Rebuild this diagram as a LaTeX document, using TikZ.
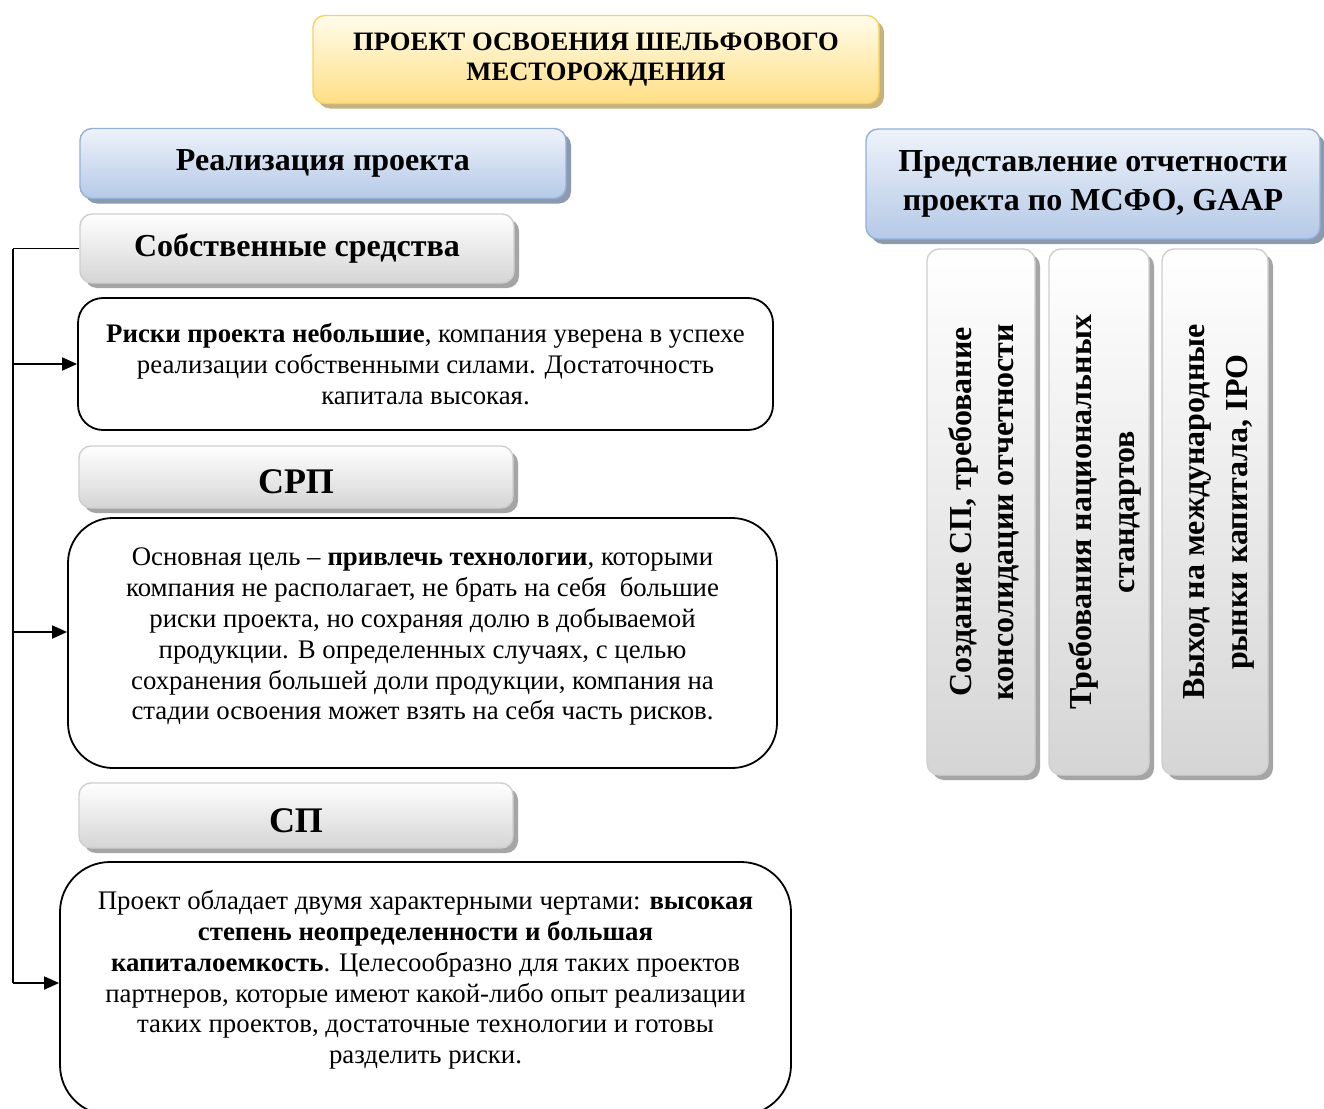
\documentclass[tikz,border=0pt]{standalone}
\usepackage{fontspec}
\setmainfont{Liberation Serif}
\usetikzlibrary{shadows,arrows.meta,calc}

\definecolor{goldtop}{HTML}{FFFCEB}
\definecolor{goldbot}{HTML}{FFDF85}
\definecolor{goldedge}{HTML}{F6D360}
\definecolor{goldshade}{HTML}{C7B27E}
\definecolor{bluetop}{HTML}{EEF3FA}
\definecolor{bluebot}{HTML}{B5C9E7}
\definecolor{blueedge}{HTML}{93B0D8}
\definecolor{blueshade}{HTML}{8D9AAE}
\definecolor{greytop}{HTML}{FFFFFF}
\definecolor{greybot}{HTML}{D5D5D5}
\definecolor{greyedge}{HTML}{CFCFCF}
\definecolor{greyshade}{HTML}{A5A5A5}

\begin{document}
\begin{tikzpicture}[x=1pt,y=-1pt,
  headbox/.style n args={4}{rounded corners=12pt, draw=#1, line width=1.4pt,
    top color=#2, bottom color=#3,
    drop shadow={shadow xshift=5pt, shadow yshift=-5pt, fill=#4, opacity=1},
    inner sep=0pt, align=center},
  goldhead/.style={headbox={goldedge}{goldtop}{goldbot}{goldshade}},
  bluehead/.style={headbox={blueedge}{bluetop}{bluebot}{blueshade}},
  greyhead/.style={headbox={greyedge}{greytop}{greybot}{greyshade}},
  textbox/.style={draw=black, line width=1.8pt, fill=white, inner sep=0pt, align=center,
    font=\fontsize{26.8}{30.8}\selectfont},
  vlabel/.style={rotate=90, align=center, font=\bfseries\fontsize{32}{42.5}\selectfont},
  rail/.style={draw=black, line width=1.8pt},
  arr/.style={draw=black, line width=1.8pt, -{Triangle[length=15pt,width=13pt]}}
]
\useasboundingbox (0,0) rectangle (1324,1108);
\fill[white] (0,0) rectangle (1324,1108);

% title
\node[goldhead, minimum width=566pt, minimum height=88pt,
  font=\bfseries\fontsize{26.6}{30}\selectfont] (title) at (596,59.5)
  {ПРОЕКТ ОСВОЕНИЯ ШЕЛЬФОВОГО\\МЕСТОРОЖДЕНИЯ};

% section headers
\node[bluehead, minimum width=486pt, minimum height=70pt,
  font=\bfseries\fontsize{32}{36}\selectfont] (impl) at (323,163.5)
  {Реализация проекта};
\node[bluehead, minimum width=454pt, minimum height=110pt,
  font=\bfseries\fontsize{32}{38.5}\selectfont] (report) at (1093,184)
  {Представление отчетности\\проекта по МСФО, GAAP};

% left column
\node[greyhead, minimum width=434pt, minimum height=69pt,
  font=\bfseries\fontsize{32}{36}\selectfont] (own) at (297,248.5)
  {Собственные средства};
\node[textbox, rounded corners=25pt, minimum width=695pt, minimum height=132pt] (box1) at (425.5,364)
  {\textbf{Риски проекта небольшие}, компания уверена в успехе\\
   реализации собственными силами. Достаточность\\
   капитала высокая.};

\node[greyhead, minimum width=434pt, minimum height=62pt, text height=34pt,
  font=\bfseries\fontsize{36}{40}\selectfont] (psa) at (296,477) {СРП};
\node[textbox, rounded corners=45pt, minimum width=709pt, minimum height=250pt] (box2) at (422.5,643)
  {Основная цель -- \textbf{привлечь технологии}, которыми\\
   компания не располагает, не брать на себя\ \ большие\\
   риски проекта, но сохраняя долю в добываемой\\
   продукции. В определенных случаях, с целью\\
   сохранения большей доли продукции, компания на\\
   стадии освоения может взять на себя часть рисков.\\[-12.8pt]};

\node[greyhead, minimum width=434pt, minimum height=65pt, text height=34pt,
  font=\bfseries\fontsize{36}{40}\selectfont] (jv) at (296,815.5) {СП};
\node[textbox, rounded corners=50pt, minimum width=731pt, minimum height=253pt] (box3) at (425.5,988.5)
  {Проект обладает двумя характерными чертами: \textbf{высокая}\\
   \textbf{степень неопределенности и большая}\\
   \textbf{капиталоемкость}. Целесообразно для таких проектов\\
   партнеров, которые имеют какой-либо опыт реализации\\
   таких проектов, достаточные технологии и готовы\\
   разделить риски.\\[-8pt]};

% right column: vertical tiles
\node[greyhead, minimum width=108pt, minimum height=526pt] (v1) at (981,512) {};
\node[greyhead, minimum width=100pt, minimum height=526pt] (v2) at (1099,512) {};
\node[greyhead, minimum width=106pt, minimum height=526pt] (v3) at (1215,512) {};
\node[vlabel] (v1t) at ([xshift=3pt]v1.center) {Создание СП, требование\\консолидации отчетности};
\node[vlabel] (v2t) at ([xshift=6pt]v2.center) {Требования национальных\\стандартов};
\node[vlabel] (v3t) at ([xshift=4pt]v3.center) {Выход на международные\\рынки капитала, IPO};

% connectors
\coordinate (railx) at (13,0);
\coordinate (railtop) at (railx |- own.west);
\coordinate (railbot) at (13,983);
\coordinate (box2in) at ([yshift=11pt]box2.west);
\draw[rail, line width=1.3pt] (own.west) -- (railtop);
\draw[rail] (railtop) -- (railbot);
\draw[arr] (railtop |- box1.west) -- (box1.west);
\draw[arr] (railtop |- box2in) -- (box2in);
\draw[arr] (railbot) -- (railbot -| box3.west);
\end{tikzpicture}
\end{document}
